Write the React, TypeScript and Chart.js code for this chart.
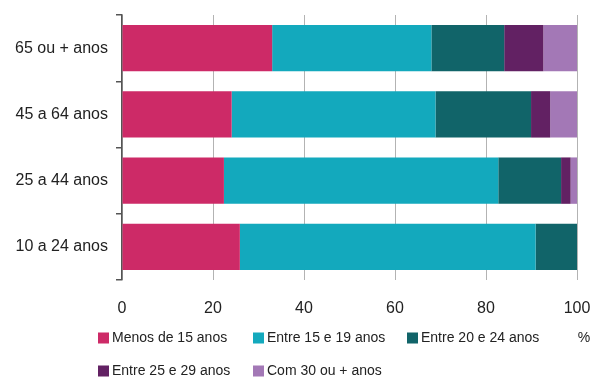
import React, { useEffect, useRef } from "react";
import { Chart, registerables } from "chart.js";

Chart.register(...registerables);

// Age groups (top to bottom) and the share of each age-at-first-event band, in %
const ageGroups = ["65 ou + anos", "45 a 64 anos", "25 a 44 anos", "10 a 24 anos"];
const seriesNames = [
  "Menos de 15 anos",
  "Entre 15 e 19 anos",
  "Entre 20 e 24 anos",
  "Entre 25 e 29 anos",
  "Com 30 ou + anos",
];
const menos15 = [33.0, 24.1, 22.4, 25.9];
const entre15e19 = [35.0, 44.8, 60.3, 65.0];
const entre20e24 = [16.0, 21.0, 13.8, 9.1];
const entre25e29 = [8.6, 4.2, 2.1, 0];
const com30 = [7.4, 5.9, 1.4, 0];
const xTicks = [0, 20, 40, 60, 80, 100];
const unitLabel = "%";

const seriesValues = [menos15, entre15e19, entre20e24, entre25e29, com30];
const seriesColors = ["#cd2a67", "#13a9bd", "#116469", "#622163", "#a378b6"];

const FONT = "'Liberation Sans', Arial, sans-serif";
const TEXT = "#222222";

// Legend layout: [x of swatch, y of row centre] for each series
const legendSlots = [
  [98, 338],
  [253, 338],
  [407, 338],
  [98, 371],
  [253, 371],
];

const legendPlugin = {
  id: "customLegend",
  afterDraw(chart: Chart) {
    const ctx = chart.ctx;
    ctx.save();
    ctx.font = `14px ${FONT}`;
    ctx.textBaseline = "middle";
    ctx.textAlign = "left";
    chart.data.datasets.forEach((ds: any, i: number) => {
      const [x, y] = legendSlots[i];
      ctx.fillStyle = ds.backgroundColor as string;
      ctx.fillRect(x, y - 5.5, 11, 11);
      ctx.fillStyle = TEXT;
      ctx.fillText(ds.label, x + 14, y + 0.5);
    });
    ctx.textAlign = "center";
    ctx.fillText(unitLabel, 584, 338.5);
    ctx.restore();
  },
};

export default function App() {
  const ref = useRef<HTMLCanvasElement>(null);

  useEffect(() => {
    if (!ref.current) return;
    const chart = new Chart(ref.current, {
      type: "bar",
      data: {
        labels: ageGroups,
        datasets: seriesNames.map((name, i) => ({
          label: name,
          data: seriesValues[i],
          backgroundColor: seriesColors[i],
          borderWidth: 0,
          barPercentage: 0.7,
          categoryPercentage: 1.0,
        })),
      },
      options: {
        indexAxis: "y",
        responsive: false,
        animation: false,
        devicePixelRatio: 1,
        layout: { padding: { top: 15, right: 16, left: 0, bottom: 0 } },
        plugins: {
          legend: { display: false },
          tooltip: { enabled: false },
        },
        scales: {
          x: {
            stacked: true,
            min: 0,
            max: 100,
            afterFit(scale: any) {
              scale.height = 101;
              scale.paddingLeft = 0;
              scale.paddingRight = 0;
            },
            afterBuildTicks(scale: any) {
              scale.ticks = xTicks.map((v) => ({ value: v }));
            },
            grid: { color: "#b3b3b3", lineWidth: 1, drawTicks: false },
            border: { display: false },
            ticks: {
              padding: 19,
              color: TEXT,
              font: { family: FONT, size: 16 },
            },
          },
          y: {
            stacked: true,
            afterFit(scale: any) {
              scale.width = 122;
              scale.paddingTop = 0;
              scale.paddingBottom = 0;
            },
            grid: {
              display: true,
              drawOnChartArea: false,
              drawTicks: true,
              tickLength: 6,
              offset: true,
              color: "#555555",
              lineWidth: 1.5,
            },
            border: { display: true, color: "#555555", width: 1.5 },
            ticks: {
              padding: 8,
              color: TEXT,
              font: { family: FONT, size: 16 },
            },
          },
        },
      },
      plugins: [legendPlugin],
    });
    return () => chart.destroy();
  }, []);

  return (
    <div style={{ position: "absolute", left: 0, top: 0, width: 593, height: 381, background: "#fff" }}>
      <canvas ref={ref} width={593} height={381} />
    </div>
  );
}
